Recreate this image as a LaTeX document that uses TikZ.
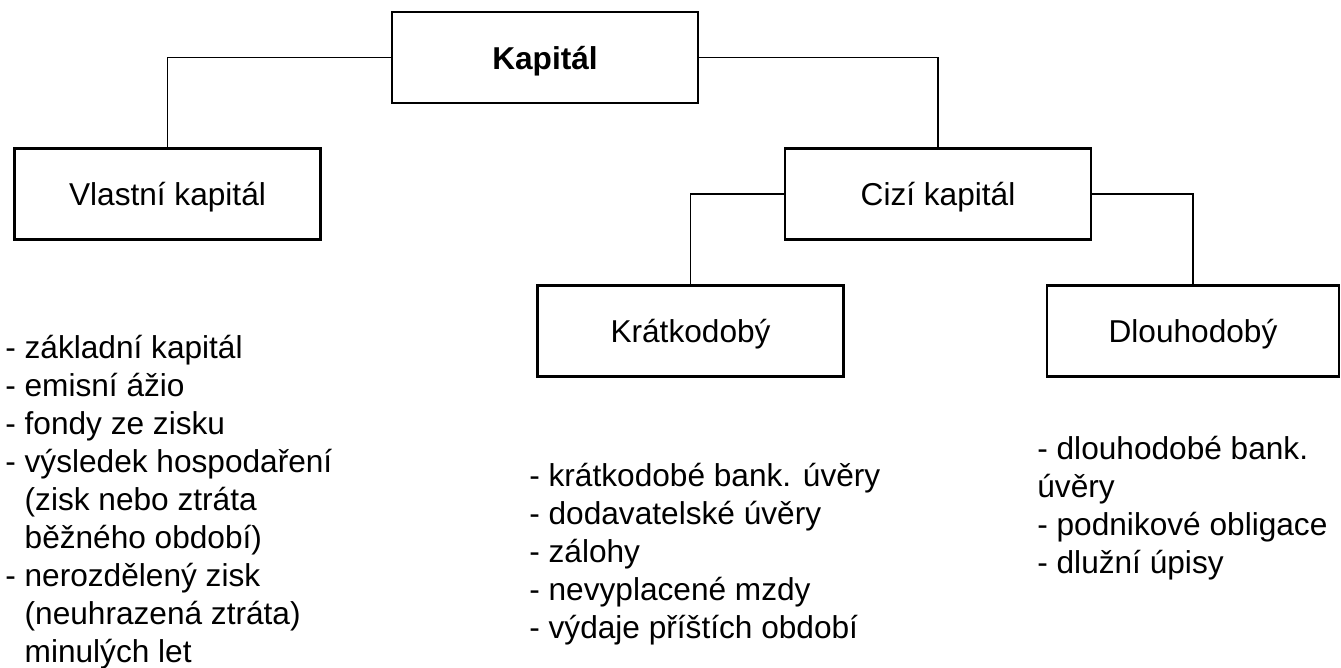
\documentclass[tikz,border=0pt]{standalone}
\usepackage{fontspec}
\setmainfont{Liberation Sans}
\begin{document}
\begin{tikzpicture}[x=0.02cm,y=-0.02cm]
\tikzstyle{every node}+=[inner sep=0pt]
\tikzstyle{box}=[draw=black, line width=1.2pt, minimum width=6.12cm, minimum height=1.82cm, text depth=0pt, font=\fontsize{18}{21.6}\selectfont]
\tikzstyle{list}=[align=left, anchor=base west, font=\fontsize{18}{21.6}\selectfont]
\useasboundingbox (0,0) rectangle (1341,668);
\node [box, font=\fontsize{18}{21.6}\selectfont\bfseries] (kap) at (545,57.5) {Kapitál};
\node [box] (vlast) at (167.5,194) {Vlastní kapitál};
\node [box] (cizi) at (938,194) {Cizí kapitál};
\node [box] (kratk) at (690.5,331) {Krátkodobý};
\node [box, minimum width=5.84cm] (dlouh) at (1193,331) {Dlouhodobý};
\draw [black, line width=0.8pt] (kap.west) -| (vlast.north);
\draw [black, line width=0.8pt] (kap.east) -| (cizi.north);
\draw [black, line width=0.8pt] (cizi.west) -| (kratk.north);
\draw [black, line width=0.8pt] (cizi.east) -| (dlouh.north);
\node [list] (vlastlist) at (5,662) {- základní kapitál\\- emisní ážio\\- fondy ze zisku\\- výsledek hospodaření\\\phantom{- }(zisk nebo ztráta\\\phantom{- }běžného období)\\- nerozdělený zisk\\\phantom{- }(neuhrazená ztráta)\\\phantom{- }minulých let};
\node [list] (kratklist) at (529,638) {- krátkodobé bank. úvěry\\- dodavatelské úvěry\\- zálohy\\- nevyplacené mzdy\\- výdaje příštích období};
\node [list] (dlouhlist) at (1037,573) {- dlouhodobé bank.\\úvěry\\- podnikové obligace\\- dlužní úpisy};
\end{tikzpicture}
\end{document}
